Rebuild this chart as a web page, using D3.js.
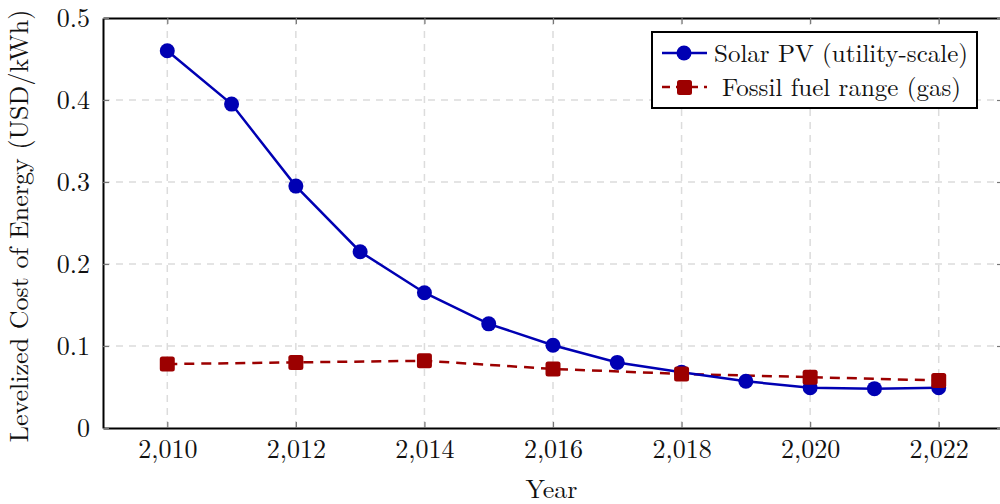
<!DOCTYPE html>
<html>
<head>
<meta charset="utf-8">
<script src="https://cdn.jsdelivr.net/npm/d3@7"></script>
<style>
  body { margin: 0; background: #fff; }
</style>
</head>
<body>
<div class="svg-container"></div>
<script>
// chart data
var solarYears = [2010, 2011, 2012, 2013, 2014, 2015, 2016, 2017, 2018, 2019, 2020, 2021, 2022];
var solarCost = [0.46, 0.395, 0.295, 0.215, 0.165, 0.127, 0.101, 0.080, 0.068, 0.057, 0.049, 0.048, 0.049];
var gasYears = [2010, 2012, 2014, 2016, 2018, 2020, 2022];
var gasCost = [0.078, 0.080, 0.082, 0.072, 0.066, 0.062, 0.058];
var xTicks = [2010, 2012, 2014, 2016, 2018, 2020, 2022];
var yTicks = [0, 0.1, 0.2, 0.3, 0.4, 0.5];
var seriesNames = ["Solar PV (utility-scale)", "Fossil fuel range (gas)"];

var pageWidth = 1000, pageHeight = 504;
var box = { left: 103, right: 1003, top: 18, bottom: 428 };
var blue = "#0000b3", red = "#9c0000";
var font = "'Latin Modern Roman', 'Liberation Serif', serif";

var svg = d3.select(".svg-container").append("svg")
  .attr("width", pageWidth).attr("height", pageHeight);

var x = d3.scaleLinear().domain([2009, 2023]).range([box.left, box.right]);
var y = d3.scaleLinear().domain([0, 0.5]).range([box.bottom, box.top]);

// grid
svg.append("g").selectAll("line").data(xTicks).enter().append("line")
  .attr("x1", function(d) { return x(d); }).attr("x2", function(d) { return x(d); })
  .attr("y1", box.top).attr("y2", box.bottom)
  .attr("stroke", "#dcdcdc").attr("stroke-width", 1.5).attr("stroke-dasharray", "7,6");
svg.append("g").selectAll("line").data(yTicks.slice(1, -1)).enter().append("line")
  .attr("y1", function(d) { return y(d); }).attr("y2", function(d) { return y(d); })
  .attr("x1", box.left).attr("x2", box.right)
  .attr("stroke", "#dcdcdc").attr("stroke-width", 1.5).attr("stroke-dasharray", "7,6");

// axes
var fmtX = d3.format(",");
var fmtY = function(d) { return d === 0 ? "0" : d3.format(".1f")(d); };

var xAxis = svg.append("g").attr("transform", "translate(0," + box.bottom + ")")
  .call(d3.axisBottom(x).tickValues(xTicks).tickFormat(fmtX).tickSizeInner(-6).tickSizeOuter(0).tickPadding(12));
var xAxisTop = svg.append("g").attr("transform", "translate(0," + box.top + ")")
  .call(d3.axisTop(x).tickValues(xTicks).tickFormat("").tickSizeInner(-6).tickSizeOuter(0));
var yAxis = svg.append("g").attr("transform", "translate(" + box.left + ",0)")
  .call(d3.axisLeft(y).tickValues(yTicks).tickFormat(fmtY).tickSizeInner(-6).tickSizeOuter(0).tickPadding(13));
var yAxisRight = svg.append("g").attr("transform", "translate(" + box.right + ",0)")
  .call(d3.axisRight(y).tickValues(yTicks).tickFormat("").tickSizeInner(-6).tickSizeOuter(0));

[xAxis, xAxisTop, yAxis, yAxisRight].forEach(function(a) {
  a.attr("font-family", null).attr("font-size", null);
  a.select(".domain").attr("stroke", "#000").attr("stroke-width", 2);
  a.selectAll(".tick line").attr("stroke", "#777").attr("stroke-width", 1.2);
  a.selectAll(".tick text").style("font-family", font).style("font-size", "26px").attr("fill", "#111");
});

// labels
svg.append("text")
  .attr("x", (box.left + 1000) / 2).attr("y", 498)
  .attr("text-anchor", "middle")
  .style("font-family", font).style("font-size", "26px").attr("fill", "#111")
  .text("Year");
svg.append("text")
  .attr("transform", "translate(28," + ((box.top + box.bottom) / 2 + 3) + ") rotate(-90)")
  .attr("text-anchor", "middle")
  .style("font-family", font).style("font-size", "26px").attr("fill", "#111")
  .text("Levelized Cost of Energy (USD/kWh)");

// series
var solarData = solarYears.map(function(d, i) { return { year: d, value: solarCost[i] }; });
var gasData = gasYears.map(function(d, i) { return { year: d, value: gasCost[i] }; });

var line = d3.line()
  .x(function(d) { return x(d.year); })
  .y(function(d) { return y(d.value); });

svg.append("path").datum(gasData)
  .attr("fill", "none").attr("stroke", red).attr("stroke-width", 2.5)
  .attr("stroke-dasharray", "10,7").attr("d", line);

svg.append("path").datum(solarData)
  .attr("fill", "none").attr("stroke", blue).attr("stroke-width", 2.5)
  .attr("d", line);

svg.selectAll(".solarDot").data(solarData).enter().append("circle")
  .attr("class", "solarDot")
  .attr("cx", function(d) { return x(d.year); })
  .attr("cy", function(d) { return y(d.value); })
  .attr("r", 7.5).attr("fill", blue);

svg.selectAll(".gasDot").data(gasData).enter().append("rect")
  .attr("class", "gasDot")
  .attr("x", function(d) { return x(d.year) - 7.5; })
  .attr("y", function(d) { return y(d.value) - 7.5; })
  .attr("width", 15).attr("height", 15).attr("rx", 2.5)
  .attr("fill", red);

// legend
var legend = svg.append("g").attr("transform", "translate(652,32)");
legend.append("rect").attr("width", 325).attr("height", 76)
  .attr("fill", "#fff").attr("stroke", "#000").attr("stroke-width", 2);

legend.append("line").attr("x1", 10).attr("x2", 55).attr("y1", 21).attr("y2", 21)
  .attr("stroke", blue).attr("stroke-width", 2.5);
legend.append("circle").attr("cx", 32).attr("cy", 21).attr("r", 7.5).attr("fill", blue);
legend.append("text").attr("x", 62).attr("y", 30)
  .style("font-family", font).style("font-size", "25px").attr("fill", "#111")
  .text(seriesNames[0]);

legend.append("line").attr("x1", 10).attr("x2", 55).attr("y1", 55).attr("y2", 55)
  .attr("stroke", red).attr("stroke-width", 2.5).attr("stroke-dasharray", "8,6");
legend.append("rect").attr("x", 25).attr("y", 48).attr("width", 15).attr("height", 15).attr("rx", 2.5).attr("fill", red);
legend.append("text").attr("x", 70).attr("y", 64)
  .style("font-family", font).style("font-size", "25px").attr("fill", "#111")
  .text(seriesNames[1]);
</script>
</body>
</html>
